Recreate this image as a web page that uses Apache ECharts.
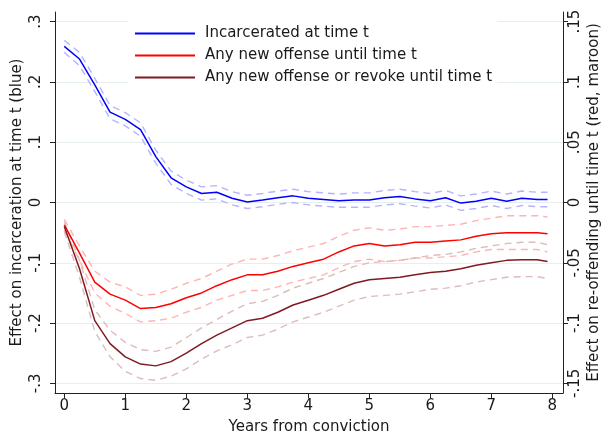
<!DOCTYPE html>
<html>
<head>
<meta charset="utf-8">
<title>Effects over time</title>
<script src="https://cdn.jsdelivr.net/npm/echarts@6/dist/echarts.min.js"></script>
<style>
  html, body { margin: 0; padding: 0; background: #fff; }
  #chart { width: 603px; height: 435px; }
</style>
</head>
<body>
<div id="chart"></div>
<script>
// years since conviction
const years = [0, 0.25, 0.5, 0.75, 1, 1.25, 1.5, 1.75, 2, 2.25, 2.5, 2.75, 3, 3.25, 3.5, 3.75,
  4, 4.25, 4.5, 4.75, 5, 5.25, 5.5, 5.75, 6, 6.25, 6.5, 6.75, 7, 7.25, 7.5, 7.75, 7.92]

// incarcerated at time t (left axis)
const incarcerated = [0.259, 0.238, 0.195, 0.150, 0.138, 0.121, 0.076, 0.041, 0.026, 0.015, 0.017, 0.007, 0.001, 0.004, 0.008, 0.011,
  0.007, 0.005, 0.003, 0.004, 0.004, 0.008, 0.010, 0.006, 0.003, 0.008, -0.001, 0.002, 0.007, 0.002, 0.007, 0.005, 0.005]
const incarceratedHi = [0.269, 0.249, 0.206, 0.161, 0.149, 0.132, 0.087, 0.052, 0.037, 0.026, 0.028, 0.018, 0.012, 0.015, 0.019, 0.022,
  0.018, 0.016, 0.014, 0.016, 0.016, 0.020, 0.022, 0.018, 0.015, 0.020, 0.011, 0.014, 0.019, 0.014, 0.019, 0.017, 0.017]
const incarceratedLo = [0.249, 0.227, 0.184, 0.139, 0.127, 0.110, 0.065, 0.030, 0.015, 0.004, 0.006, -0.004, -0.010, -0.007, -0.003, 0.000,
  -0.004, -0.006, -0.008, -0.008, -0.008, -0.004, -0.002, -0.006, -0.009, -0.004, -0.013, -0.010, -0.005, -0.010, -0.005, -0.007, -0.007]

// any new offense until time t (right axis)
const newOffense = [-0.0185, -0.042, -0.066, -0.076, -0.081, -0.088, -0.087, -0.084, -0.079, -0.075, -0.069, -0.064, -0.060, -0.060, -0.057, -0.053,
  -0.050, -0.047, -0.041, -0.036, -0.034, -0.036, -0.035, -0.033, -0.033, -0.032, -0.031, -0.028, -0.026, -0.025, -0.025, -0.025, -0.026]
const newOffenseHi = [-0.014, -0.036, -0.057, -0.066, -0.070, -0.077, -0.076, -0.072, -0.067, -0.063, -0.057, -0.051, -0.047, -0.047, -0.044, -0.040,
  -0.037, -0.034, -0.028, -0.023, -0.021, -0.023, -0.022, -0.020, -0.020, -0.019, -0.018, -0.015, -0.013, -0.011, -0.011, -0.011, -0.012]
const newOffenseLo = [-0.023, -0.048, -0.075, -0.086, -0.092, -0.099, -0.098, -0.096, -0.091, -0.087, -0.081, -0.077, -0.073, -0.073, -0.070, -0.066,
  -0.063, -0.060, -0.054, -0.049, -0.047, -0.049, -0.048, -0.046, -0.046, -0.045, -0.044, -0.041, -0.039, -0.039, -0.039, -0.039, -0.041]

// any new offense or revoke until time t (right axis)
const offenseOrRevoke = [-0.020, -0.055, -0.098, -0.117, -0.128, -0.134, -0.1355, -0.132, -0.125, -0.117, -0.110, -0.104, -0.098, -0.096, -0.091, -0.085,
  -0.081, -0.077, -0.072, -0.067, -0.064, -0.063, -0.062, -0.060, -0.058, -0.057, -0.055, -0.052, -0.050, -0.048, -0.0475, -0.0475, -0.049]
const offenseOrRevokeHi = [-0.016, -0.048, -0.089, -0.106, -0.116, -0.122, -0.1235, -0.120, -0.112, -0.104, -0.097, -0.090, -0.084, -0.082, -0.077, -0.071,
  -0.067, -0.063, -0.058, -0.053, -0.050, -0.049, -0.048, -0.046, -0.044, -0.043, -0.041, -0.038, -0.036, -0.034, -0.033, -0.033, -0.035]
const offenseOrRevokeLo = [-0.024, -0.062, -0.107, -0.128, -0.140, -0.146, -0.1475, -0.144, -0.138, -0.130, -0.123, -0.118, -0.112, -0.110, -0.105, -0.099,
  -0.095, -0.091, -0.086, -0.081, -0.078, -0.077, -0.076, -0.074, -0.072, -0.071, -0.069, -0.066, -0.064, -0.062, -0.0615, -0.0615, -0.063]

// ticks and labels
const xTicks = [0, 1, 2, 3, 4, 5, 6, 7, 8]
const leftTicks = [-0.3, -0.2, -0.1, 0, 0.1, 0.2, 0.3]
const leftTickLabels = ['-.3', '-.2', '-.1', '0', '.1', '.2', '.3']
const rightTicks = [-0.15, -0.1, -0.05, 0, 0.05, 0.1, 0.15]
const rightTickLabels = ['-.15', '-.1', '-.05', '0', '.05', '.1', '.15']

const FONT = 'DejaVu Sans'
const TXT = '#1a1a1a'

function pairs(vals) {
  return years.map((t, i) => [t, vals[i]])
}
function lookup(ticks, labels) {
  return function(v) {
    let best = 0
    for (let i = 1; i < ticks.length; i++) {
      if (Math.abs(ticks[i] - v) < Math.abs(ticks[best] - v)) best = i
    }
    return labels[best]
  }
}

function mainLine(name, vals, color, axis) {
  return {
    name: name, type: 'line', yAxisIndex: axis, data: pairs(vals),
    symbol: 'none', z: 5,
    lineStyle: { color: color, width: 1.5 },
    itemStyle: { color: color }
  }
}
function ciLine(name, vals, color, axis) {
  return {
    name: name, type: 'line', yAxisIndex: axis, data: pairs(vals),
    symbol: 'none', z: 3, silent: true,
    lineStyle: { color: color, width: 1.4, type: [7, 5] }
  }
}

const chart = echarts.init(document.getElementById('chart'), null, { renderer: 'canvas' })

const yAxisCommon = {
  type: 'value',
  nameLocation: 'middle',
  nameRotate: 90,
  nameMoveOverlap: false,
  nameTextStyle: { fontFamily: FONT, fontSize: 15, color: TXT },
  axisLine: { show: true, onZero: false, lineStyle: { color: '#222', width: 1 } },
  axisTick: { show: true, length: 5, lineStyle: { color: '#222' } }
}

chart.setOption({
  animation: false,
  backgroundColor: '#fff',
  textStyle: { fontFamily: FONT },
  grid: { left: 55, right: 40, top: 12, bottom: 42, outerBoundsMode: 'none', containLabel: false },
  legend: {
    data: ['Incarcerated at time t', 'Any new offense until time t', 'Any new offense or revoke until time t'],
    orient: 'vertical',
    left: 128, top: 21,
    padding: [5, 5, 5, 7],
    backgroundColor: '#fff',
    icon: 'rect',
    itemWidth: 60, itemHeight: 2, itemGap: 7,
    textStyle: { fontFamily: FONT, fontSize: 15, lineHeight: 15, color: TXT, padding: [0, 0, 0, 5] }
  },
  xAxis: {
    type: 'value',
    min: -0.152, max: 8.174,
    name: 'Years from conviction',
    nameLocation: 'middle', nameGap: 27,
    nameMoveOverlap: false,
    nameTextStyle: { fontFamily: FONT, fontSize: 15, color: TXT },
    axisLine: { show: true, onZero: false, lineStyle: { color: '#222', width: 1 } },
    axisTick: { show: true, length: 5, customValues: xTicks, lineStyle: { color: '#222' } },
    axisLabel: { customValues: xTicks, fontFamily: FONT, fontSize: 15, color: TXT, margin: 6,
      formatter: v => String(Math.round(v)) },
    splitLine: { show: false }
  },
  yAxis: [
    Object.assign({}, yAxisCommon, {
      position: 'left',
      min: -0.316, max: 0.316,
      name: 'Effect on incarceration at time t (blue)',
      nameGap: 30,
      axisTick: Object.assign({}, yAxisCommon.axisTick, { customValues: leftTicks }),
      axisLabel: { customValues: leftTicks, rotate: 90, align: 'center', verticalAlign: 'bottom',
        fontFamily: FONT, fontSize: 15, lineHeight: 15, color: TXT, margin: 11,
        formatter: lookup(leftTicks, leftTickLabels) },
      splitLine: { show: true, lineStyle: { color: '#e6eef1', width: 1 } }
    }),
    Object.assign({}, yAxisCommon, {
      position: 'right',
      min: -0.158, max: 0.158,
      name: 'Effect on re-offending until time t (red, maroon)',
      nameGap: 24,
      axisTick: Object.assign({}, yAxisCommon.axisTick, { customValues: rightTicks }),
      axisLabel: { customValues: rightTicks, rotate: 90, align: 'center', verticalAlign: 'top',
        fontFamily: FONT, fontSize: 15, lineHeight: 15, color: TXT, margin: 5,
        formatter: lookup(rightTicks, rightTickLabels) },
      splitLine: { show: false }
    })
  ],
  series: [
    ciLine('incHi', incarceratedHi, '#b4b4ff', 0),
    ciLine('incLo', incarceratedLo, '#b4b4ff', 0),
    ciLine('offHi', newOffenseHi, '#ffb4b4', 1),
    ciLine('offLo', newOffenseLo, '#ffb4b4', 1),
    ciLine('revHi', offenseOrRevokeHi, '#dcbcbc', 1),
    ciLine('revLo', offenseOrRevokeLo, '#dcbcbc', 1),
    mainLine('Incarcerated at time t', incarcerated, '#0000ff', 0),
    mainLine('Any new offense until time t', newOffense, '#ff0000', 1),
    mainLine('Any new offense or revoke until time t', offenseOrRevoke, '#7f1a22', 1)
  ]
})
</script>
</body>
</html>
